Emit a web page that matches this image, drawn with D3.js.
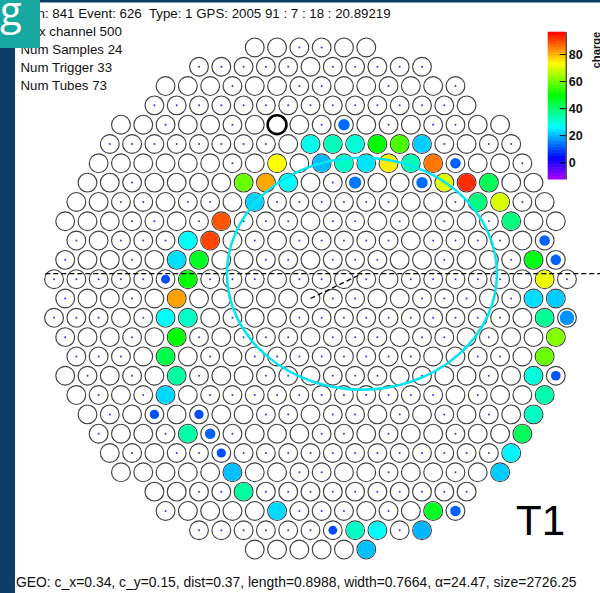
<!DOCTYPE html>
<html><head><meta charset="utf-8">
<script src="https://cdn.jsdelivr.net/npm/d3@7"></script>
<style>body{margin:0;background:#fff;}svg{display:block;}text{white-space:pre;}</style>
</head><body>
<svg id="chart" width="600" height="593"></svg>
<script>
// ---------------- data ----------------
const headerLines = ["Run: 841 Event: 626  Type: 1 GPS: 2005 91 : 7 : 18 : 20.89219",
  "Max channel 500", "Num Samples 24", "Num Trigger 33", "Num Tubes 73"];
const geoText = "GEO: c_x=0.34, c_y=0.15, dist=0.37, length=0.8988, width=0.7664, \u03b1=24.47, size=2726.25";
const telescopeLabel = "T1";
const colorbarTitle = "charge";
const colorbarTicks = [0, 20, 40, 60, 80];
const chargeRange = [-12.4, 96.5];
// camera: 499 tubes on a hexagonal lattice, 0.15 deg spacing
const tubeSpacingDeg = 0.15;
const cameraRows = d3.range(-13, 14);
const cameraRadius2 = 136; // in lattice units^2
// hit tubes: lattice row, lattice column (half-integers on odd rows), charge
const hitRow = [-9,
  -8,-8,-8,-8,-8,-8,
  -7,-7,-7,-7,-7,-7,-7,-7,
  -6,-6,-6,-6,-6,-6,-6,-6,
  -5,-5,-5, -4,-4, -3,-3,-3, -2,-2,-2,-2, -1,-1,-1, 0,0,0, 1,1,1,1,
  2,2, 3,3, 4,4,4, 5,5, 6,6,6, 7,7,7, 8,8, 9,9, 10, 11,11,11, 12,12,12,12, 13];
const hitCol = [1.5,
  0,1,2,3,4,5,
  -1.5,0.5,1.5,2.5,3.5,4.5,5.5,6.5,
  -3,-2,-1,2,5,6,7,8,
  -2.5,7.5,8.5, -4,9, -5.5,-4.5,10.5, -6,-5,10,11, -6.5,-5.5,10.5, -6,10,11, -6.5,-5.5,10.5,11.5,
  -6,11, -6.5,10.5, -6,10,11, -6.5,10.5, -7,-5,10, -5.5,-4.5,9.5, -4,9, -3.5,8.5, -3, -1.5,5.5,6.5, 1,2,3,5, 2.5];
const hitCharge = [13,
  28.4,33,30,49.8,56.8,22,
  73,20.3,31.5,24,74.7,33,85.6,12,
  59.5,81,26.5,14,13,70.5,92.5,42,
  22.6,38,70, 88.8,38, 27,90.3,12, 23.6,46.7,47.8,12, 10.2,49.8,71.6, 81.8,23.6,21.8, 27,31.5,36.2,16.5,
  49.8,62, 43.2,59.5, 35,29.6,11, 23,34, 10.5,10.5,32, 34.3,12,41.3, 10.5,25.6, 20.7,21.8, 35.4, 23,46.7,12, 10,32,27,19.9, 20.7];
// faint tubes (small positive charge, drawn as dots): lattice row -> columns
const dotRows = [-13,-12,-11,-10,-9,-8,-7,-6,-5,-4,-3,-2,-1,0,1,2,3,4,5,6,7,8,9,10,11,12];
const dotCols = [
  [-0.5,0.5],
  [-5,-4,-3,-2,-1,1,2,3,4,5],
  [-3.5,-0.5,0.5,3.5,6.5],
  [-7,-6,-5,-4,-3,-2,-1,0,1,2,3,4,5,6],
  [-6.5,-3.5,0.5,3.5,5.5,6.5],
  [-9,-8,-7,-6,-5,-4,-3,-2,6,8,9],
  [-3.5,9.5],
  [-8,1],
  [-8.5,-7.5,-5.5,-4.5,-1.5,-0.5,0.5,1.5,2.5,3.5,6.5,9.5],
  [-8,-7,-5,-3,-2,-1,1,2,4,6,8],
  [-10.5,-8.5,-7.5,-6.5,-2.5,-0.5,0.5,1.5,2.5,3.5,5.5,6.5,7.5,8.5],
  [-11,-8,-2,-1,1,2,3,6,9],
  [-11.5,-10.5,-9.5,-8.5,-7.5,-4.5,-3.5,-2.5,-0.5,0.5,2.5,4.5,5.5,6.5,7.5,8.5,11.5],
  [-11,-8,1,2,5,6,7,9],
  [-11.5,-10.5,-9.5,-7.5,-3.5,-0.5,0.5,1.5,2.5,3.5,4.5,5.5,6.5,7.5,8.5],
  [-11,-8,-5,-3,-2,-1,1,2,3,5,6,8],
  [-10.5,-9.5,-8.5,-4.5,-2.5,-1.5,-0.5,0.5,1.5,2.5,3.5,4.5,6.5,7.5,8.5],
  [-10,-8,-5,-2,-1,1,2,3,5,8],
  [-9.5,-7.5,-4.5,-3.5,-2.5,-1.5,-0.5,0.5,1.5,2.5,3.5,4.5,5.5,7.5],
  [-9,-2,-1,1,2,4,6,8],
  [-9.5,-6.5,-3.5,0.5,1.5,3.5,6.5],
  [-8,-6,-5,-3,-2,-1,0,1,2,3,4,5,6,7,8],
  [-0.5,0.5,3.5,6.5],
  [-5,-4,-2,-1,0,1,2,3,4,5,6,7],
  [-6.5,-0.5,0.5,1.5,3.5],
  [-5,-4,-3,-2,-1,0,4]];
const dotCharge = 5;
// highlighted tube (bold outline)
const markRow = [-9];
const markCol = [-1.5];
// Hillas ellipse (deg)
const hillasCentroid = [0.346, 0.167];
const hillasAxes = [0.908, 0.78];
const axisExtentDeg = [-2.13, 1.7];

// ---------------- drawing ----------------
const svg = d3.select("#chart");
const W = 600, H = 593;
const font = "'Liberation Sans', Arial, sans-serif";

// camera scales (deg -> px)
const pxPerDeg = 148.67;
const x = d3.scaleLinear().domain([0, 1]).range([310.5, 310.5 + pxPerDeg]);
const y = d3.scaleLinear().domain([0, 1]).range([298.5, 298.5 - pxPerDeg]);
const rowDeg = r => -r * tubeSpacingDeg * Math.sqrt(3) / 2;
const colDeg = c => c * tubeSpacingDeg;

// background frame
svg.append("rect").attr("width", W).attr("height", H).attr("fill", "#fff");
svg.append("rect").attr("x", 0).attr("y", 0).attr("width", 15).attr("height", H).attr("fill", "#0d3c68");
svg.append("rect").attr("x", 0).attr("y", 0).attr("width", W).attr("height", 2.5).attr("fill", "#0d3c68");

// lattice
const tubes = [];
cameraRows.forEach(r => {
  const odd = Math.abs(r) % 2 === 1;
  for (let k = -13; k <= 13; k++) {
    const c = odd ? k + 0.5 : k;
    if (c * c + 0.75 * r * r <= cameraRadius2) tubes.push({r, c});
  }
});

const tubeR = 9.4;
svg.append("g").selectAll("circle").data(tubes).join("circle")
  .attr("cx", d => x(colDeg(d.c))).attr("cy", d => y(rowDeg(d.r)))
  .attr("r", tubeR).attr("fill", "#fff").attr("stroke", "#404040").attr("stroke-width", 1.15);

// colour palette (ROOT pretty palette: hue 280 -> 0)
const hue = d3.scaleLinear().domain(chargeRange).range([280, 0]).clamp(true);
const colorOf = v => d3.hsl(hue(v), 1, 0.5).formatHex();
const fillR = v => Math.max(1.1, Math.min(1, v / 20) * 8.8);

const hits = hitRow.map((r, i) => ({r, c: hitCol[i], v: hitCharge[i]}));
const dots = dotRows.flatMap((r, i) => dotCols[i].map(c => ({r, c})));

svg.append("g").selectAll("circle").data(dots).join("circle")
  .attr("cx", d => x(colDeg(d.c))).attr("cy", d => y(rowDeg(d.r)))
  .attr("r", 1.0).attr("fill", colorOf(dotCharge)).attr("opacity", 0.85);

svg.append("g").selectAll("circle").data(hits).join("circle")
  .attr("cx", d => x(colDeg(d.c))).attr("cy", d => y(rowDeg(d.r)))
  .attr("r", d => fillR(d.v)).attr("fill", d => colorOf(d.v));

svg.append("g").selectAll("circle").data(markRow.map((r, i) => ({r, c: markCol[i]}))).join("circle")
  .attr("cx", d => x(colDeg(d.c))).attr("cy", d => y(rowDeg(d.r)))
  .attr("r", tubeR).attr("fill", "none").attr("stroke", "#000").attr("stroke-width", 2.6);

// Hillas lines
const axX1 = x(hillasCentroid[0] + axisExtentDeg[0]);
const axX2 = Math.min(W, x(hillasCentroid[0] + axisExtentDeg[1]));
svg.append("line")
  .attr("x1", axX1).attr("x2", axX2)
  .attr("y1", y(hillasCentroid[1])).attr("y2", y(hillasCentroid[1]))
  .attr("stroke", "#000").attr("stroke-width", 1.3).attr("stroke-dasharray", "5,3");
svg.append("line")
  .attr("x1", x(0)).attr("y1", y(0)).attr("x2", x(hillasCentroid[0])).attr("y2", y(hillasCentroid[1]))
  .attr("stroke", "#000").attr("stroke-width", 1.3).attr("stroke-dasharray", "5,3");
svg.append("ellipse")
  .attr("cx", x(hillasCentroid[0])).attr("cy", y(hillasCentroid[1]))
  .attr("rx", x(hillasAxes[0]) - x(0)).attr("ry", y(0) - y(hillasAxes[1]))
  .attr("fill", "none").attr("stroke", "#00e6f2").attr("stroke-width", 2.5);

// colour bar
const cbY = d3.scaleLinear().domain(chargeRange).range([179, 31.7]);
const nCol = 50;
const step = (chargeRange[1] - chargeRange[0]) / nCol;
const cbG = svg.append("g");
cbG.selectAll("rect").data(d3.range(nCol)).join("rect")
  .attr("x", 547.7).attr("width", 18)
  .attr("y", i => cbY(chargeRange[0] + (i + 1) * step))
  .attr("height", i => cbY(chargeRange[0] + i * step) - cbY(chargeRange[0] + (i + 1) * step) + 0.5)
  .attr("fill", i => colorOf(chargeRange[0] + (i + 0.5) * step));
const cbAxis = svg.append("g").attr("transform", "translate(565.7,0)")
  .call(d3.axisRight(cbY).tickValues(colorbarTicks).tickSizeInner(-6).tickSizeOuter(0).tickPadding(3));
cbAxis.select(".domain").attr("stroke", "#000");
cbAxis.selectAll("line").attr("stroke", "#000");
cbAxis.selectAll("text").attr("font-family", font).attr("font-size", 12.5).attr("font-weight", "bold").attr("fill", "#111");
svg.append("text").attr("transform", "translate(599.5,31.7) rotate(-90)")
  .attr("text-anchor", "end").attr("font-family", font).attr("font-size", 11.2).attr("font-weight", "bold")
  .attr("fill", "#111").text(colorbarTitle);

// texts
svg.append("g").selectAll("text").data(headerLines).join("text")
  .attr("x", 20.5).attr("y", (d, i) => 18.3 + i * 18)
  .attr("font-family", font).attr("font-size", 13.3).attr("fill", "#111").text(d => d);
svg.append("text").attr("x", 16).attr("y", 586.5).attr("font-family", font).attr("font-size", 13.9)
  .attr("fill", "#111").text(geoText);
svg.append("text").attr("x", 516).attr("y", 535).attr("font-family", font).attr("font-size", 42)
  .attr("fill", "#000").text(telescopeLabel);

// logo
svg.append("rect").attr("x", 0).attr("y", 0).attr("width", 40).attr("height", 48).attr("fill", "#17a8a1");
svg.append("text").attr("x", 0).attr("y", 25).attr("font-family", "'Open Sans', sans-serif")
  .attr("font-size", 40).attr("fill", "#fff").text("g");
</script>
</body></html>
